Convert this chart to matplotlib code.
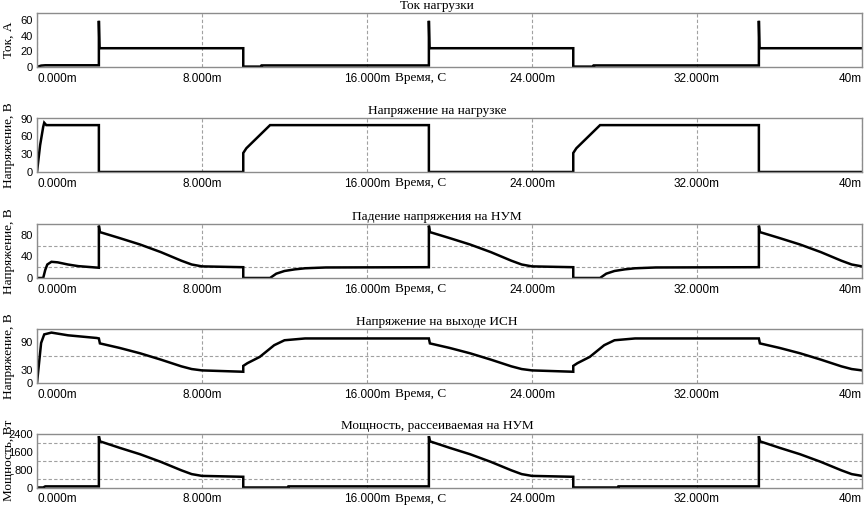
import matplotlib
matplotlib.use("Agg")
import matplotlib.pyplot as plt

# Время, мс
t_tok = [0, 0.2, 0.4, 3.0, 3.0, 3.03, 10.0, 10.0, 10.9, 10.9, 19.0, 19.0, 19.03,
         26.0, 26.0, 27.0, 27.0, 35.0, 35.0, 35.03, 40.0]
tok = [0, 1.8, 2.2, 2.2, 59, 24, 24, 0.5, 0.5, 2.0, 2.0, 59, 24,
       24, 0.5, 0.5, 2.0, 2.0, 59, 24, 24]

t_nagr = [0, 0.15, 0.3, 0.35, 0.45, 3.0, 3.0, 10.0, 10.0, 10.15, 11.3, 19.0, 19.0,
          26.0, 26.0, 26.15, 27.3, 35.0, 35.0, 40.0]
u_nagr = [0, 45, 76, 83, 79, 79, 0, 0, 32, 40, 79, 79, 0,
          0, 32, 40, 79, 79, 0, 0]

t_num = [0, 0.3, 0.4, 0.5, 0.7, 1.0, 1.5, 2.0, 3.0, 3.0, 3.05, 4.0, 5.0, 6.0, 7.0, 7.5, 8.0,
         10.0, 10.0, 11.3, 11.6, 12.0, 12.5, 13.0, 14.0, 19.0, 19.0, 19.05, 20.0, 21.0, 22.0,
         23.0, 23.5, 24.0, 26.0, 26.0, 27.3, 27.6, 28.0, 28.5, 29.0, 30.0, 35.0, 35.0, 35.05,
         36.0, 37.0, 38.0, 39.0, 39.5, 40.0]
u_num = [0, 0, 15, 25, 30, 29, 25, 22, 19, 97, 85, 74, 62, 48, 32, 25, 21.5,
         20, 0, 0, 8, 13, 16, 18, 19.5, 20, 97, 85, 74, 62, 48,
         32, 25, 21.5, 20, 0, 0, 8, 13, 16, 18, 19.5, 20, 97, 85,
         74, 62, 48, 32, 25, 21.5]

t_isn = [0, 0.2, 0.35, 0.7, 1.5, 2.9, 3.0, 3.05, 4.0, 5.0, 6.0, 7.0, 7.5, 8.0, 10.0,
         10.0, 10.2, 10.8, 11.5, 12.0, 13.0, 19.0, 19.05, 20.0, 21.0, 22.0, 23.0, 23.5, 24.0,
         26.0, 26.0, 26.2, 26.8, 27.5, 28.0, 29.0, 35.0, 35.05, 36.0, 37.0, 38.0, 39.0,
         39.5, 40.0]
u_isn = [0, 89, 108, 112, 106, 100, 99, 88, 78, 66, 52, 37, 31, 28, 25,
         38, 44, 58, 84, 95, 99, 99, 88, 78, 66, 52, 37, 31, 28,
         25, 38, 44, 58, 84, 95, 99, 99, 88, 78, 66, 52, 37,
         31, 28]

t_p = [0, 0.3, 0.4, 3.0, 3.0, 3.05, 4.0, 5.0, 6.0, 7.0, 7.5, 8.0, 10.0, 10.0, 12.2, 12.2,
       19.0, 19.0, 19.05, 20.0, 21.0, 22.0, 23.0, 23.5, 24.0, 26.0, 26.0, 28.2, 28.2,
       35.0, 35.0, 35.05, 36.0, 37.0, 38.0, 39.0, 39.5, 40.0]
p_num = [0, 0, 50, 50, 2300, 2070, 1780, 1490, 1150, 770, 600, 520, 480, 0, 0, 50,
         50, 2300, 2070, 1780, 1490, 1150, 770, 600, 520, 480, 0, 0, 50,
         50, 2300, 2070, 1780, 1490, 1150, 770, 600, 520]

x_ticks = [0, 8, 16, 24, 32, 40]
x_labels = ["0.000m", "8.000m", "16.000m", "24.000m", "32.000m", "40m"]

titles = ["Ток нагрузки", "Напряжение на нагрузке", "Падение напряжения на НУМ",
          "Напряжение на выходе ИСН", "Мощность, рассеиваемая на НУМ"]
ylabels = ["Ток, А", "Напряжение, В", "Напряжение, В", "Напряжение, В", "Мощность, Вт"]
y_ticks = [[0, 20, 40, 60], [0, 30, 60, 90], [0, 40, 80], [0, 30, 90], [0, 800, 1600, 2400]]
y_grid = [[20, 40, 60], [30, 60], [20, 40, 60, 80], [30, 60, 90],
          [400, 800, 1200, 1600, 2000, 2400]]
y_max = [69, 91, 100, 120, 2420]

series = [(t_tok, tok), (t_nagr, u_nagr), (t_num, u_num), (t_isn, u_isn), (t_p, p_num)]

W, H = 865, 505
tops = [13, 118, 224, 329, 433.5]
fig = plt.figure(figsize=(W / 100, H / 100), dpi=100)

serif = "Liberation Serif"
sans = "Liberation Sans"

for k in range(5):
    ax = fig.add_axes([37 / W, 1 - (tops[k] + 54) / H, 825 / W, 54 / H])
    t, v = series[k]
    ax.plot(t, v, color="black", lw=1.8, solid_joinstyle="miter")
    ax.set_xlim(0, 40)
    ax.set_ylim(0, y_max[k])

    ax.set_xticks(x_ticks)
    ax.set_xticklabels(x_labels, fontfamily=sans, fontsize=8.5)
    lbls = ax.get_xticklabels()
    lbls[0].set_horizontalalignment("left")
    lbls[-1].set_horizontalalignment("right")
    ax.set_yticks(y_ticks[k])
    ax.set_yticklabels([str(y) for y in y_ticks[k]], fontfamily=sans, fontsize=8)
    ax.set_yticks(y_grid[k], minor=True)
    ax.tick_params(which="both", length=0, pad=4)
    ax.tick_params(axis="y", pad=3)

    ax.grid(True, axis="x", color="#a0a0a0", ls=(0, (3, 2)), lw=0.8)
    ax.grid(True, axis="y", which="minor", color="#a0a0a0", ls=(0, (3, 2)), lw=0.8)
    for s in ax.spines.values():
        s.set_color("#8c8c8c")
        s.set_linewidth(1)

    ax.set_title(titles[k], x=0.485, pad=3, fontfamily=serif, fontsize=9.5)
    ax.set_ylabel(ylabels[k], fontfamily=serif, fontsize=9.5)
    ax.yaxis.set_label_coords(-0.027, 0.5)
    ax.set_xlabel("Время, С", fontfamily=serif, fontsize=9.5)
    ax.xaxis.set_label_coords(0.4655, -0.1)

fig.savefig("out.png", dpi=100)
